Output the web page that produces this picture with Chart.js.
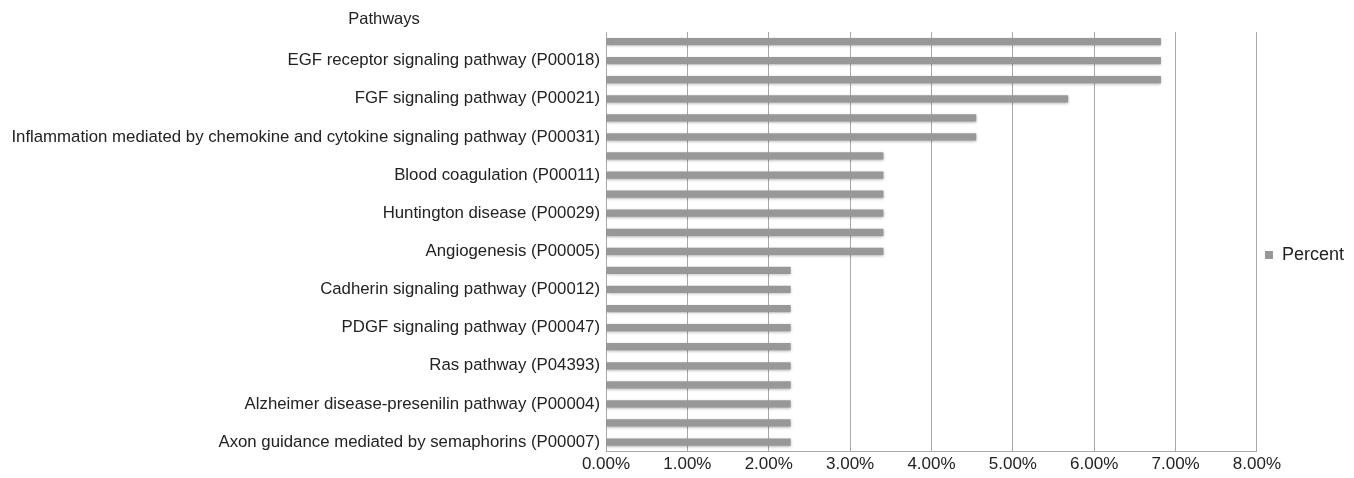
<!DOCTYPE html>
<html>
<head>
<meta charset="utf-8">
<script src="https://cdn.jsdelivr.net/npm/chart.js@4.4.1/dist/chart.umd.min.js"></script>
<style>
  html, body { margin: 0; padding: 0; background: #fff; }
  #wrap { width: 1354px; height: 478px; }
</style>
</head>
<body>
<div id="wrap"><canvas id="chart"></canvas></div>
<script>
// Pathways, top to bottom. Only every other name is printed in the original; the rest are blank.
const pathways = [
  '', 'EGF receptor signaling pathway (P00018)',
  '', 'FGF signaling pathway (P00021)',
  '', 'Inflammation mediated by chemokine and cytokine signaling pathway (P00031)',
  '', 'Blood coagulation (P00011)',
  '', 'Huntington disease (P00029)',
  '', 'Angiogenesis (P00005)',
  '', 'Cadherin signaling pathway (P00012)',
  '', 'PDGF signaling pathway (P00047)',
  '', 'Ras pathway (P04393)',
  '', 'Alzheimer disease-presenilin pathway (P00004)',
  '', 'Axon guidance mediated by semaphorins (P00007)'
];

// percent of genes in each pathway
const percent = [
  6.82, 6.82, 6.82, 5.68,
  4.55, 4.55,
  3.41, 3.41, 3.41, 3.41, 3.41, 3.41,
  2.27, 2.27, 2.27, 2.27, 2.27, 2.27, 2.27, 2.27, 2.27, 2.27
];

const xTicks = [0, 1, 2, 3, 4, 5, 6, 7, 8];

const FONT = "'Liberation Sans', Arial, sans-serif";

// draws the "Pathways" heading above the category labels
const headingPlugin = {
  id: 'heading',
  afterDraw(chart) {
    const ctx = chart.ctx;
    ctx.save();
    ctx.font = '16.5px ' + FONT;
    ctx.fillStyle = '#222';
    ctx.textAlign = 'center';
    ctx.textBaseline = 'middle';
    ctx.fillText('Pathways', chart.chartArea.left - 222, 19);
    ctx.restore();
  }
};

// soft shadow under the bars, like the original
const shadowPlugin = {
  id: 'barShadow',
  beforeDatasetDraw(chart) {
    const ctx = chart.ctx;
    ctx.save();
    ctx.shadowColor = 'rgba(0,0,0,0.3)';
    ctx.shadowBlur = 3;
    ctx.shadowOffsetY = 1;
  },
  afterDatasetDraw(chart) {
    chart.ctx.restore();
  }
};

new Chart(document.getElementById('chart'), {
  type: 'bar',
  data: {
    labels: pathways,
    datasets: [{
      label: 'Percent',
      data: percent,
      backgroundColor: '#989898',
      borderWidth: 0,
      barPercentage: 0.38,
      categoryPercentage: 1.0
    }]
  },
  options: {
    indexAxis: 'y',
    responsive: true,
    maintainAspectRatio: false,
    animation: false,
    layout: { padding: { top: 32, right: 0, left: 0, bottom: 0 } },
    plugins: {
      legend: {
        position: 'right',
        labels: {
          boxWidth: 8,
          boxHeight: 8,
          padding: 8,
          color: '#222',
          font: { family: FONT, size: 18 }
        }
      },
      tooltip: { enabled: false }
    },
    scales: {
      x: {
        min: 0,
        max: 8,
        afterBuildTicks: axis => { axis.ticks = xTicks.map(v => ({ value: v })); },
        ticks: {
          color: '#222',
          font: { family: FONT, size: 17 },
          padding: 3,
          callback: v => v.toFixed(2) + '%'
        },
        grid: { color: '#a8a8a8', lineWidth: 1, drawTicks: false },
        border: { color: '#a8a8a8' }
      },
      y: {
        afterFit: scale => { scale.width = 606; },
        ticks: {
          autoSkip: false,
          color: '#222',
          font: { family: FONT, size: 16.8 },
          padding: 6
        },
        grid: { display: false, drawTicks: false },
        border: { color: '#a8a8a8' }
      }
    }
  },
  plugins: [headingPlugin, shadowPlugin]
});
</script>
</body>
</html>
